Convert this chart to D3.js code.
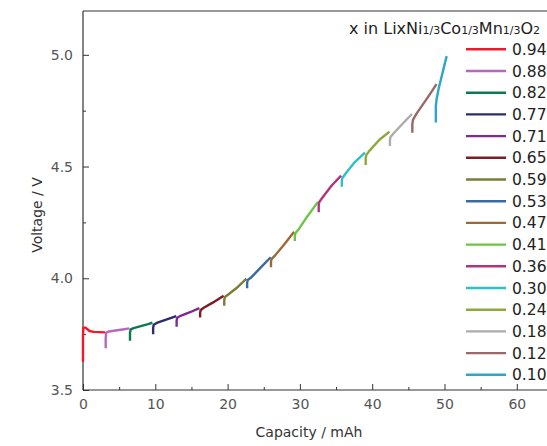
<!DOCTYPE html>
<html><head><meta charset="utf-8">
<script src="https://cdn.jsdelivr.net/npm/d3@7"></script>
<style>body{margin:0;background:#fff}svg{display:block}</style>
</head><body>
<script>
const xLabels = ["0.94","0.88","0.82","0.77","0.71","0.65","0.59","0.53","0.47","0.41","0.36","0.30","0.24","0.18","0.12","0.10"];
const colors = ["#f2182a","#b569b8","#0c7a4c","#2d2d6c","#7f2a8f","#7a1e22","#7c7c36","#3a6aa2","#9b6a38","#6cc545","#b0357f","#2cc0c8","#8ea83a","#acacac","#9a6868","#2ea6c8"];
const capacity = [
  [0,0,0.05,0.35,0.9,1.5,3.05],
  [3.14,3.14,3.2,3.6,4.5,5.5,6.4],
  [6.5,6.5,6.58,7.0,8.0,9.0,9.6],
  [9.7,9.7,9.78,10.2,11.5,12.9],
  [12.95,12.95,13.03,13.5,14.8,16.1],
  [16.2,16.2,16.28,16.7,18.0,19.45],
  [19.54,19.54,19.62,20.0,21.2,22.6],
  [22.7,22.7,22.78,23.2,24.5,25.96],
  [26.0,26.0,26.08,26.5,27.8,29.2],
  [29.3,29.3,29.38,29.8,31.1,32.5],
  [32.6,32.6,32.68,33.1,34.4,35.7],
  [35.8,35.8,35.88,36.3,37.6,39.0],
  [39.1,39.1,39.18,39.6,41.0,42.4],
  [42.45,42.45,42.53,43.0,44.3,45.5],
  [45.55,45.55,45.65,46.2,46.8,47.8,48.9],
  [48.8,48.8,48.9,49.2,50.3]
];
const voltage = [
  [3.626,3.74,3.779,3.779,3.764,3.760,3.758],
  [3.687,3.73,3.757,3.762,3.766,3.771,3.776],
  [3.72,3.755,3.771,3.777,3.786,3.795,3.801],
  [3.75,3.778,3.792,3.80,3.815,3.831],
  [3.783,3.81,3.823,3.832,3.848,3.866],
  [3.824,3.846,3.858,3.868,3.892,3.922],
  [3.877,3.903,3.916,3.925,3.955,3.998],
  [3.955,3.98,3.992,4.002,4.045,4.094],
  [4.049,4.074,4.086,4.10,4.15,4.208],
  [4.167,4.19,4.202,4.218,4.28,4.342],
  [4.295,4.325,4.341,4.36,4.415,4.459],
  [4.41,4.437,4.449,4.468,4.52,4.562],
  [4.507,4.538,4.551,4.57,4.62,4.656],
  [4.592,4.62,4.632,4.65,4.695,4.735],
  [4.651,4.69,4.71,4.74,4.768,4.815,4.869],
  [4.697,4.768,4.80,4.85,4.994]
];
const xTicks = [0,10,20,30,40,50,60];
const yTicks = [3.5,4.0,4.5,5.0];

const W = 547, H = 446;
const svg = d3.select("body").append("svg").attr("width", W).attr("height", H);
const fontF = "'DejaVu Sans',sans-serif";

const x = d3.scaleLinear().domain([0, 65]).range([83, 83 + 65 * 7.23]);
const y = d3.scaleLinear().domain([3.5, 5.196]).range([390, 11]);

// frame
svg.append("line").attr("x1", 83).attr("x2", W).attr("y1", 11).attr("y2", 11).attr("stroke", "#333").attr("stroke-width", 1.2);

// axes
const xAxis = d3.axisBottom(x).tickValues(xTicks).tickFormat(d3.format("d")).tickSizeInner(-6).tickSizeOuter(0).tickPadding(9);
const gx = svg.append("g").attr("transform", "translate(0,390)").call(xAxis);
const xMinor = d3.axisBottom(x).tickValues(d3.range(5, 65, 10)).tickFormat("").tickSizeInner(-3).tickSizeOuter(0);
svg.append("g").attr("transform", "translate(0,390)").call(xMinor).select(".domain").remove();

const yAxis = d3.axisLeft(y).tickValues(yTicks).tickFormat(d3.format(".1f")).tickSizeInner(-6).tickSizeOuter(0).tickPadding(10);
const gy = svg.append("g").attr("transform", "translate(83,0)").call(yAxis);
const yMinor = d3.axisLeft(y).tickValues([3.75,4.25,4.75]).tickFormat("").tickSizeInner(-3).tickSizeOuter(0);
svg.append("g").attr("transform", "translate(83,0)").call(yMinor).select(".domain").remove();

svg.selectAll(".domain").attr("stroke", "#333").attr("stroke-width", 1.2);
svg.selectAll(".tick line").attr("stroke", "#333").attr("stroke-width", 1);
svg.selectAll(".tick text").attr("fill", "#555").style("font-family", fontF).style("font-size", "14px");
gx.select(".domain").attr("d", `M83,0H${W}`);
gy.select(".domain").attr("d", `M0,390V11`);

// axis titles
svg.append("text").attr("x", 309).attr("y", 437).attr("text-anchor", "middle")
  .style("font-family", fontF).style("font-size", "14px").attr("fill", "#333").text("Capacity / mAh");
svg.append("text").attr("transform", "translate(42,215) rotate(-90)").attr("text-anchor", "middle")
  .style("font-family", fontF).style("font-size", "14px").attr("fill", "#333").text("Voltage / V");

// curves
const line = d3.line().x(d => x(d[0])).y(d => y(d[1]));
xLabels.forEach((lab, i) => {
  const pts = capacity[i].map((c, j) => [c, voltage[i][j]]);
  svg.append("path").attr("d", line(pts)).attr("fill", "none")
    .attr("stroke", colors[i]).attr("stroke-width", 2.4).attr("stroke-linejoin", "round").attr("stroke-linecap", "butt");
});

// legend
const title = svg.append("text").attr("x", 349).attr("y", 34)
  .style("font-family", fontF).style("font-size", "16px").attr("fill", "#222");
const parts = [["x in LixNi", false], ["1/3", true], ["Co", false], ["1/3", true], ["Mn", false], ["1/3", true], ["O", false], ["2", true]];
parts.forEach(([t, sub]) => {
  title.append("tspan").text(t).style("font-size", sub ? "11px" : "16px");
});
const lg = svg.append("g");
xLabels.forEach((lab, i) => {
  const yy = 49.3 + i * 21.7;
  lg.append("line").attr("x1", 466).attr("x2", 506).attr("y1", yy).attr("y2", yy)
    .attr("stroke", colors[i]).attr("stroke-width", 2.4);
  lg.append("text").attr("x", 512).attr("y", yy).attr("dy", "0.36em")
    .style("font-family", fontF).style("font-size", "15.5px").attr("fill", "#222").text(lab);
});
</script>
</body></html>
